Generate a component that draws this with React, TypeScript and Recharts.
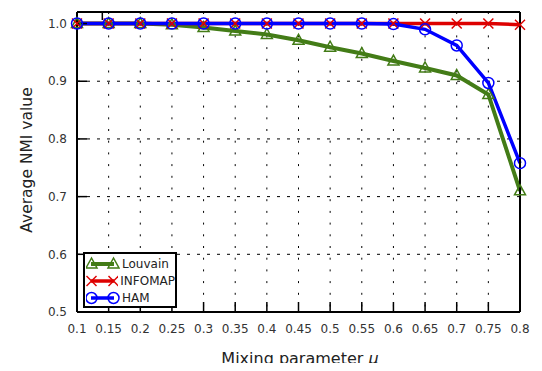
import React from "react";
import {
  LineChart,
  Line,
  XAxis,
  YAxis,
  CartesianGrid,
} from "recharts";

const FONT = "'DejaVu Sans', sans-serif";

const MU = [0.1, 0.15, 0.2, 0.25, 0.3, 0.35, 0.4, 0.45, 0.5, 0.55, 0.6, 0.65, 0.7, 0.75, 0.8];
const LOUVAIN = [1.0, 1.0, 1.0, 0.998, 0.993, 0.987, 0.981, 0.971, 0.959, 0.948, 0.935, 0.923, 0.91, 0.877, 0.71];
const INFOMAP = [1.0, 1.0, 1.0, 1.0, 1.0, 1.0, 1.0, 1.0, 1.0, 1.0, 1.0, 1.0, 1.0, 1.0, 0.998];
const HAM = [1.0, 1.0, 1.0, 1.0, 1.0, 1.0, 1.0, 1.0, 1.0, 1.0, 0.999, 0.99, 0.962, 0.897, 0.758];

const Y_TICKS = [0.5, 0.6, 0.7, 0.8, 0.9, 1.0];

const GREEN = "#437c17";
const RED = "#dd0000";
const BLUE = "#0000ff";

const chartData = MU.map((m, i) => ({
  mu: m,
  louvain: LOUVAIN[i],
  infomap: INFOMAP[i],
  ham: HAM[i],
}));

// marker shapes
const Triangle = ({ cx, cy, color }: { cx: number; cy: number; color: string }) => (
  <polygon
    points={`${cx},${cy - 6} ${cx - 5.5},${cy + 4} ${cx + 5.5},${cy + 4}`}
    fill="none"
    stroke={color}
    strokeWidth={1.5}
  />
);

const Cross = ({ cx, cy, color }: { cx: number; cy: number; color: string }) => (
  <g stroke={color} strokeWidth={1.5}>
    <line x1={cx - 5} y1={cy - 5} x2={cx + 5} y2={cy + 5} />
    <line x1={cx - 5} y1={cy + 5} x2={cx + 5} y2={cy - 5} />
  </g>
);

const Circle = ({ cx, cy, color }: { cx: number; cy: number; color: string }) => (
  <circle cx={cx} cy={cy} r={5.5} fill="none" stroke={color} strokeWidth={1.5} />
);

const SERIES = [
  { key: "louvain", name: "Louvain", color: GREEN, width: 4, Marker: Triangle },
  { key: "infomap", name: "INFOMAP", color: RED, width: 3.5, Marker: Cross },
  { key: "ham", name: "HAM", color: BLUE, width: 3.5, Marker: Circle },
];

const tickStyle = { fill: "#333", fontSize: 12, fontFamily: FONT };
const noTick = () => <g />;

const App = () => {
  return (
    <div
      style={{
        margin: -8,
        width: 542,
        height: 371,
        position: "relative",
        overflow: "hidden",
        background: "#fff",
        fontFamily: FONT,
      }}
    >
      {/* clipped panel title */}
      <div
        style={{
          position: "absolute",
          left: 207,
          top: -16,
          fontSize: 16,
          color: "#222",
        }}
      >
        (a)
      </div>

      <LineChart
        width={542}
        height={371}
        data={chartData}
        margin={{ top: 11, right: 21, bottom: 0, left: 0 }}
      >
        <CartesianGrid
          horizontal={false}
          stroke="#000"
          strokeWidth={1}
          strokeDasharray="2 9.7"
        />
        <CartesianGrid
          vertical={false}
          stroke="#000"
          strokeWidth={1}
          strokeDasharray="3 7"
        />
        <XAxis
          dataKey="mu"
          type="number"
          domain={[0.1, 0.8]}
          ticks={MU}
          height={59}
          tickSize={-10}
          tickMargin={22}
          tick={tickStyle}
          tickFormatter={(v: number) => String(v)}
          axisLine={{ stroke: "#000", strokeWidth: 2 }}
          tickLine={{ stroke: "#000", strokeWidth: 1.5 }}
        />
        <XAxis
          xAxisId="top"
          orientation="top"
          type="number"
          domain={[0.1, 0.8]}
          ticks={MU}
          height={1}
          tickSize={-8}
          tick={noTick}
          axisLine={{ stroke: "#000", strokeWidth: 2 }}
          tickLine={{ stroke: "#000", strokeWidth: 1.5 }}
        />
        <YAxis
          type="number"
          domain={[0.5, 1.02]}
          ticks={Y_TICKS}
          allowDataOverflow
          width={77}
          tickSize={-10}
          tickMargin={20}
          tick={tickStyle}
          tickFormatter={(v: number) => v.toFixed(1)}
          axisLine={{ stroke: "#000", strokeWidth: 2 }}
          tickLine={{ stroke: "#000", strokeWidth: 1.5 }}
        />
        <YAxis
          yAxisId="right"
          orientation="right"
          type="number"
          domain={[0.5, 1.02]}
          ticks={Y_TICKS}
          width={1}
          tickSize={-8}
          tick={noTick}
          axisLine={{ stroke: "#000", strokeWidth: 2 }}
          tickLine={{ stroke: "#000", strokeWidth: 1.5 }}
        />

        {SERIES.map((s) => (
          <Line
            key={s.key}
            dataKey={s.key}
            name={s.name}
            stroke={s.color}
            strokeWidth={s.width}
            isAnimationActive={false}
            dot={(p: any) => (
              <s.Marker key={`${s.key}-${p.index}`} cx={p.cx} cy={p.cy} color={s.color} />
            )}
            activeDot={false}
          />
        ))}
      </LineChart>

      {/* axis titles */}
      <div
        style={{
          position: "absolute",
          left: 77,
          width: 446,
          top: 349,
          textAlign: "center",
          fontSize: 16,
          lineHeight: "19px",
          color: "#222",
          whiteSpace: "nowrap",
        }}
      >
        Mixing parameter <i>μ</i>
      </div>
      <div
        style={{
          position: "absolute",
          left: 27,
          top: 160,
          transform: "translate(-50%, -50%) rotate(-90deg)",
          fontSize: 15.5,
          lineHeight: "18px",
          color: "#222",
          whiteSpace: "nowrap",
        }}
      >
        Average NMI value
      </div>

      {/* legend box */}
      <div
        style={{
          position: "absolute",
          left: 83,
          top: 252,
          width: 90,
          height: 51,
          border: "2px solid #000",
          background: "#fff",
          padding: "1px 0 0 0",
        }}
      >
        {SERIES.map((s) => (
          <div
            key={s.key}
            style={{ display: "flex", alignItems: "center", height: 17 }}
          >
            <svg width={34} height={16} style={{ marginLeft: 1 }}>
              <line x1={5} y1={8} x2={28} y2={8} stroke={s.color} strokeWidth={s.width} />
              <s.Marker cx={5.5} cy={8} color={s.color} />
              <s.Marker cx={27.5} cy={8} color={s.color} />
            </svg>
            <span style={{ fontSize: 12, color: "#222", marginLeft: 2 }}>{s.name}</span>
          </div>
        ))}
      </div>
    </div>
  );
};

export default App;
